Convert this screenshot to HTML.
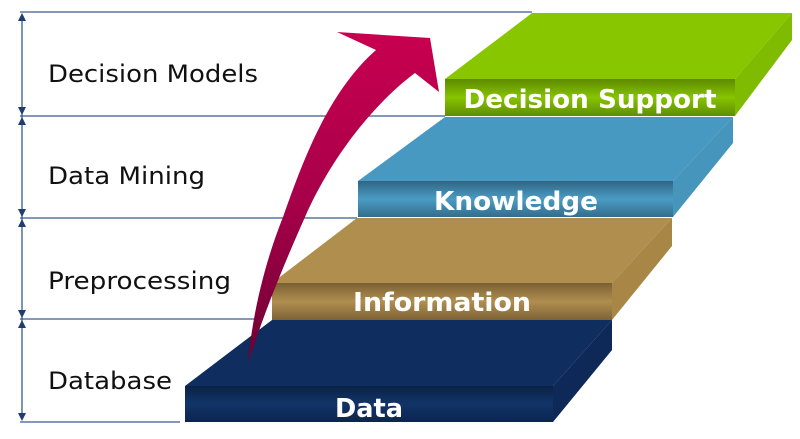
<!DOCTYPE html>
<html><head><meta charset="utf-8"><style>
html,body{margin:0;padding:0;background:#fff;}
svg{display:block;}
</style></head><body>
<svg width="800" height="439" viewBox="0 0 800 439" xmlns="http://www.w3.org/2000/svg">
<defs>
<linearGradient id="arr" x1="0" y1="1" x2="0" y2="0">
<stop offset="0" stop-color="#6e0033"/><stop offset="0.5" stop-color="#a8004a"/><stop offset="1" stop-color="#c8004f"/>
</linearGradient>
<linearGradient id="fD" x1="0" y1="0" x2="0" y2="1"><stop offset="0" stop-color="#0b2246"/><stop offset="0.5" stop-color="#113468"/><stop offset="1" stop-color="#0c2550"/></linearGradient>
<linearGradient id="fI" x1="0" y1="0" x2="0" y2="1"><stop offset="0" stop-color="#7a6032"/><stop offset="0.5" stop-color="#b08e50"/><stop offset="1" stop-color="#7d6337"/></linearGradient>
<linearGradient id="fK" x1="0" y1="0" x2="0" y2="1"><stop offset="0" stop-color="#2f6684"/><stop offset="0.5" stop-color="#4a9cc4"/><stop offset="1" stop-color="#336d8c"/></linearGradient>
<linearGradient id="fS" x1="0" y1="0" x2="0" y2="1"><stop offset="0" stop-color="#5e8a00"/><stop offset="0.5" stop-color="#86c400"/><stop offset="1" stop-color="#5f8d00"/></linearGradient>
</defs>
<g stroke="#3a5a8c" stroke-width="1.3">
<line x1="20" y1="12" x2="532" y2="12"/>
<line x1="20" y1="116" x2="445" y2="116"/>
<line x1="20" y1="218" x2="357" y2="218"/>
<line x1="20" y1="319" x2="261" y2="319"/>
<line x1="20" y1="422" x2="180" y2="422"/>
<line x1="22" y1="16" x2="22" y2="418"/>
</g>
<g fill="#1f3d6e">
<polygon points="22,13 18,21 26,21"/><polygon points="22,115 18,107 26,107"/>
<polygon points="22,117 18,125 26,125"/><polygon points="22,217 18,209 26,209"/>
<polygon points="22,219 18,227 26,227"/><polygon points="22,318 18,310 26,310"/>
<polygon points="22,320 18,328 26,328"/><polygon points="22,421 18,413 26,413"/>
</g>
<g font-family="'DejaVu Sans','Liberation Sans',sans-serif" font-size="24" fill="#111">
<text x="48" y="82" textLength="210" lengthAdjust="spacingAndGlyphs">Decision Models</text>
<text x="48" y="184" textLength="157" lengthAdjust="spacingAndGlyphs">Data Mining</text>
<text x="48" y="289" textLength="183" lengthAdjust="spacingAndGlyphs">Preprocessing</text>
<text x="48" y="389" textLength="124" lengthAdjust="spacingAndGlyphs">Database</text>
</g>
<!-- Data -->
<polygon points="185,386 272,320 612,320 553,386" fill="#0f2d5e"/>
<polygon points="553,386 612,320 612,350 553,422" fill="#0e2958"/>
<rect x="185" y="386" width="368" height="36" fill="url(#fD)"/>
<!-- Information -->
<polygon points="272,283 357,218 672,218 612,283" fill="#b08e4d"/>
<polygon points="612,283 672,218 672,246 612,320" fill="#a88746"/>
<rect x="272" y="283" width="340" height="37" fill="url(#fI)"/>
<!-- Knowledge -->
<polygon points="358,181 445,117 733,117 673,181" fill="#4799c2"/>
<polygon points="673,181 733,117 733,143 673,217" fill="#4595bd"/>
<rect x="358" y="181" width="315" height="36" fill="url(#fK)"/>
<!-- Decision Support -->
<polygon points="445,79 532,13 792,13 735,79" fill="#88c600"/>
<polygon points="735,79 792,13 792,40 735,116" fill="#7fbb00"/>
<rect x="445" y="79" width="290" height="37" fill="url(#fS)"/>
<g font-family="'DejaVu Sans','Liberation Sans',sans-serif" font-weight="bold" font-size="26" fill="#fff" text-anchor="middle">
<text x="369" y="417" textLength="68" lengthAdjust="spacingAndGlyphs">Data</text>
<text x="442" y="311" textLength="178" lengthAdjust="spacingAndGlyphs">Information</text>
<text x="516" y="210" textLength="164" lengthAdjust="spacingAndGlyphs">Knowledge</text>
<text x="590" y="108" textLength="253" lengthAdjust="spacingAndGlyphs">Decision Support</text>
</g>
<!-- arrow -->
<path d="M248,363 C252,320 262,270 283,217 C300,170 325,95 376,50 L337,32 L430,38 L439,92 L415,73 C372,105 330,160 305,217 C285,262 265,310 248,363 Z" fill="url(#arr)"/>
</svg>
</body></html>
